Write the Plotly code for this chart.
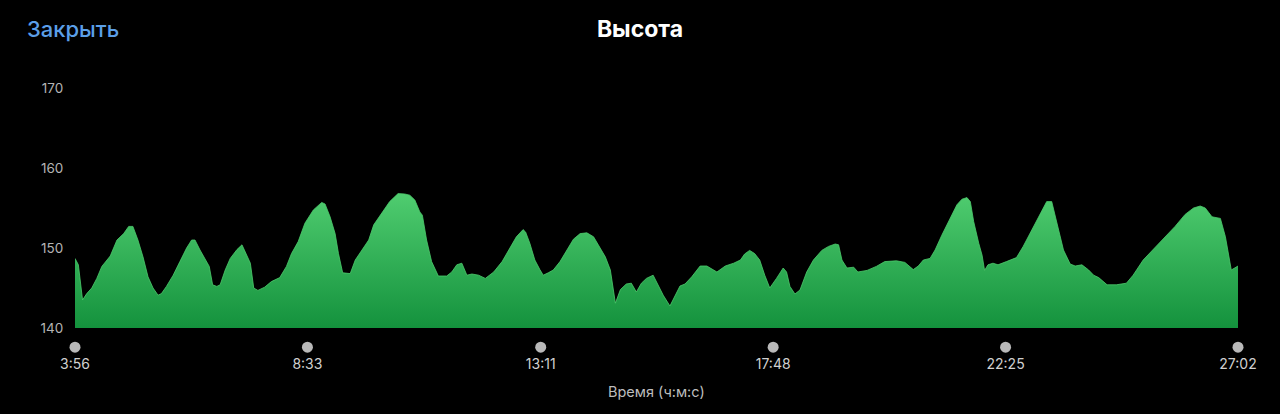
import plotly.graph_objects as go

# Elapsed time (seconds) and altitude (m)
time_s = [236, 240, 245, 250, 256, 262, 268, 274, 278, 286, 294, 300, 305, 311, 317, 323, 329, 335, 339, 345,
          353, 361, 369, 375, 379, 385, 393, 396, 400, 405, 409, 415, 421, 429, 435, 441, 445, 449, 454, 462,
          470, 480, 488, 494, 502, 510, 520, 530, 534, 540, 546, 550, 555, 564, 570, 578, 586, 592, 602, 611,
          621, 629, 635, 641, 647, 650, 655, 661, 669, 679, 685, 691, 697, 703, 709, 717, 725, 735, 745, 754,
          762, 770, 773, 778, 784, 790, 794, 800, 806, 814, 822, 830, 838, 846, 854, 860, 868, 874, 877, 880,
          886, 893, 899, 905, 911, 917, 925, 931, 937, 945, 951, 957, 963, 971, 981, 989, 1001, 1011, 1021, 1029,
          1034, 1040, 1046, 1052, 1058, 1064, 1072, 1080, 1084, 1088, 1094, 1100, 1108, 1116, 1126, 1134, 1142, 1146, 1150, 1156,
          1164, 1169, 1180, 1191, 1201, 1215, 1225, 1235, 1241, 1247, 1255, 1261, 1269, 1279, 1287, 1293, 1299, 1303, 1307, 1313,
          1317, 1320, 1324, 1330, 1336, 1346, 1358, 1366, 1376, 1386, 1394, 1400, 1406, 1414, 1422, 1428, 1436, 1444, 1450, 1456,
          1466, 1477, 1489, 1497, 1509, 1523, 1535, 1547, 1559, 1569, 1577, 1583, 1591, 1601, 1607, 1614, 1622]

altitude = [148.7, 147.9, 143.5, 144.3, 145.0, 146.2, 147.7, 148.5, 149.0, 151.0, 151.8, 152.7, 152.7, 151.0, 148.9, 146.4, 145.0, 144.1, 144.3, 145.2,
            146.6, 148.3, 150.0, 151.0, 151.0, 149.75, 148.3, 147.7, 145.4, 145.2, 145.4, 147.25, 148.7, 149.8, 150.4, 149.1, 148.1, 145.0, 144.7, 145.1,
            145.8, 146.3, 147.7, 149.3, 150.8, 153.1, 154.75, 155.7, 155.5, 153.9, 151.8, 149.3, 146.9, 146.8, 148.5, 149.75, 151.0, 152.9, 154.5, 155.8,
            156.8, 156.75, 156.6, 156.0, 154.5, 154.1, 151.0, 148.3, 146.5, 146.5, 147.0, 147.9, 148.1, 146.6, 146.75, 146.6, 146.2, 147.0, 148.3, 150.0,
            151.4, 152.3, 152.0, 150.6, 148.5, 147.3, 146.6, 146.9, 147.25, 148.3, 149.75, 151.1, 151.8, 151.9, 151.4, 150.4, 148.9, 147.25, 145.2, 143.1,
            144.8, 145.5, 145.6, 144.5, 145.6, 146.2, 146.6, 145.4, 144.1, 142.75, 144.1, 145.25, 145.5, 146.4, 147.75, 147.75, 147.0, 147.75, 148.1, 148.5,
            149.25, 149.7, 149.3, 148.5, 146.6, 145.0, 146.2, 147.5, 147.0, 145.2, 144.25, 144.75, 147.0, 148.5, 149.7, 150.2, 150.5, 150.4, 148.5, 147.5,
            147.6, 147.0, 147.2, 147.7, 148.3, 148.4, 148.2, 147.3, 147.75, 148.5, 148.7, 149.75, 151.6, 153.7, 155.4, 156.1, 156.3, 155.8, 153.3, 150.6,
            149.1, 147.2, 147.9, 148.1, 147.9, 148.3, 148.8, 150.2, 152.25, 154.3, 155.8, 155.8, 153.1, 149.75, 148.0, 147.75, 147.9, 147.25, 146.6, 146.3,
            145.4, 145.4, 145.6, 146.6, 148.5, 150.0, 151.4, 152.7, 154.2, 155.0, 155.25, 155.0, 153.9, 153.7, 151.4, 147.25, 147.75]

x_tick_labels = ["3:56", "8:33", "13:11", "17:48", "22:25", "27:02"]
y_tick_values = [140, 150, 160, 170]
y_base = 140


def to_seconds(label):
    m, s = label.split(":")
    return int(m) * 60 + int(s)


x_tick_values = [to_seconds(t) for t in x_tick_labels]

FONT = "Inter, Roboto, 'Noto Sans', sans-serif"

fig = go.Figure()

# invisible baseline at 140 for the area fill
fig.add_trace(go.Scatter(
    x=[time_s[0], time_s[-1]], y=[y_base, y_base],
    mode="lines", line=dict(width=0, color="rgba(0,0,0,0)"),
    hoverinfo="skip", showlegend=False,
))

fig.add_trace(go.Scatter(
    x=time_s, y=altitude,
    mode="lines",
    line=dict(color="#4ccb6c", width=0.8),
    fill="tonexty",
    fillgradient=dict(type="vertical", start=y_base, stop=157,
                      colorscale=[[0, "#14923d"], [1, "#50cd70"]]),
    hoverinfo="skip",
    showlegend=False,
))

# tick dots below the axis
fig.add_trace(go.Scatter(
    x=x_tick_values, y=[137.6] * len(x_tick_values),
    mode="markers",
    marker=dict(size=11, color="#b9b9b9"),
    cliponaxis=False,
    hoverinfo="skip",
    showlegend=False,
))

fig.update_layout(
    width=1280, height=414,
    paper_bgcolor="#000000",
    plot_bgcolor="#000000",
    margin=dict(l=75, r=42, t=88, b=62),
    font=dict(family=FONT, color="#c8c8c8"),
    title=dict(text="Высота", x=0.5, xref="container", xanchor="center",
               y=1 - 29 / 414, yref="container", yanchor="middle",
               font=dict(family=FONT, size=23, color="#ffffff", weight=700)),
    xaxis=dict(
        range=[x_tick_values[0], x_tick_values[-1]],
        tickvals=x_tick_values, ticktext=x_tick_labels,
        showgrid=False, zeroline=False, showline=False,
        ticks="", ticklabelstandoff=2,
        tickfont=dict(size=14, color="#d0d0d0"),
    ),
    yaxis=dict(
        range=[137, 170],
        tickvals=y_tick_values,
        showgrid=False, zeroline=False, showline=False,
        ticks="outside", ticklen=8, tickcolor="rgba(0,0,0,0)",
        tickfont=dict(size=13.5, color="#b4b4b4"),
    ),
    annotations=[
        dict(text="Закрыть", xref="paper", yref="paper",
             x=(25 - 75) / 1163, y=(352 - 29) / 264, xanchor="left", yanchor="middle",
             showarrow=False, font=dict(family=FONT, size=22, color="#5b9fe8", weight=500)),
        dict(text="Время (ч:м:с)", xref="paper", yref="paper",
             x=0.5, y=(352 - 391) / 264, xanchor="center", yanchor="middle",
             showarrow=False, font=dict(family=FONT, size=14.5, color="#bdbdbd")),
    ],
)

fig.write_html("out.html",
               config={"displayModeBar": False},
               post_script="document.body.style.margin='0';document.body.style.padding='0';document.body.style.background='#000';")
